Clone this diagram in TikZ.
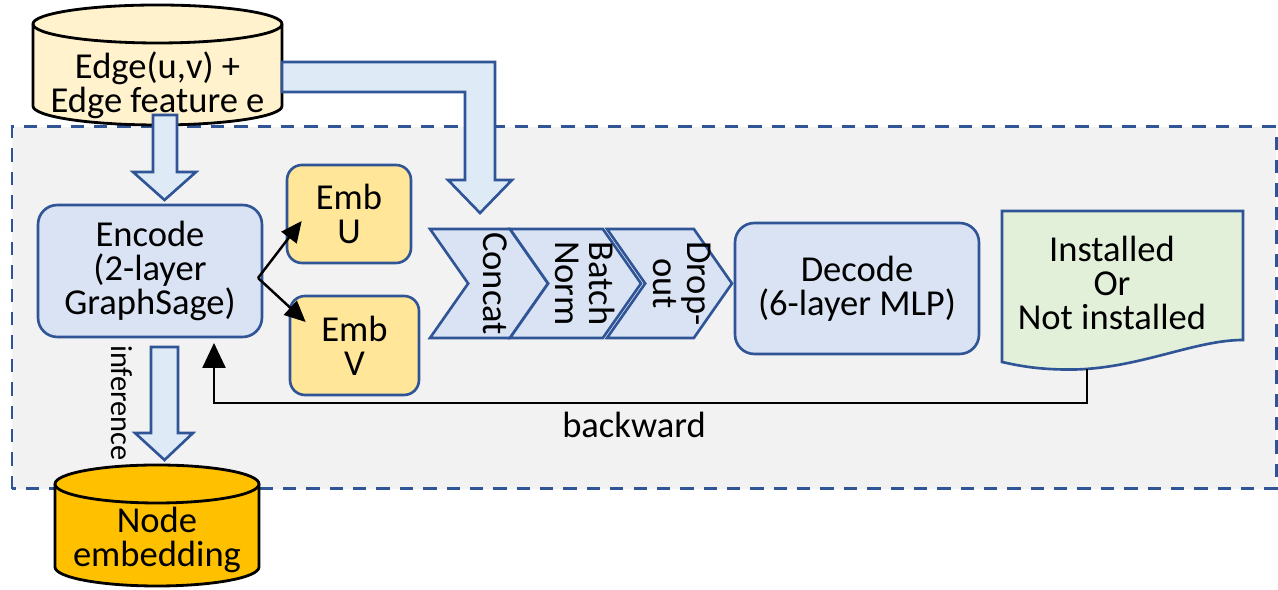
\documentclass[tikz,border=0pt]{standalone}
\usepackage{fontspec}
\setmainfont{Carlito}
\usepackage{xcolor}
\usepackage{tikz}
\usetikzlibrary{positioning, arrows.meta, shapes.symbols, calc}

\definecolor{lineblue}{HTML}{2F5597}
\definecolor{boxblue}{HTML}{DAE3F3}
\definecolor{arrblue}{HTML}{DEEBF7}
\definecolor{embyel}{HTML}{FFE699}
\definecolor{dbyel}{HTML}{FFF2CC}
\definecolor{dborange}{HTML}{FFC000}
\definecolor{docgreen}{HTML}{E2F0D9}
\definecolor{bggray}{HTML}{F2F2F2}

\begin{document}
\begin{tikzpicture}[
  x=0.02cm, y=0.02cm,
  every node/.style={font=\fontsize{20.8}{19.4}\selectfont},
  box/.style={draw=lineblue, line width=1.5pt, align=center, inner sep=0pt},
  enc/.style={box, fill=boxblue, rounded corners=11pt},
  emb/.style={box, fill=embyel, rounded corners=8.5pt},
  chev/.style={box, fill=boxblue, signal, signal from=west, signal to=east,
               signal pointer angle=110, minimum height=2.18cm},
  blockarr/.style={draw=lineblue, fill=arrblue, line width=1.5pt, line join=miter},
  conn/.style={-{Triangle[length=4.2mm,width=3.8mm]}, line width=1.4pt},
  backarr/.style={-{Triangle[length=5mm,width=4.6mm]}, line width=1.4pt},
  dbtxt/.style={align=center, inner sep=0pt},
  lbl/.style={inner sep=0pt},
]

\useasboundingbox (0,0) rectangle (1278,590);

% --- dashed training frame ---
\draw[draw=lineblue, fill=bggray, line width=1.7pt, dash pattern=on 7.6pt off 5.7pt]
  (12,101) rectangle (1276,463);

% --- input data (cylinder) ---
\filldraw[fill=dbyel, line width=1.6pt]
  (33,566) -- (33,484) arc[start angle=180, end angle=360, x radius=124.5, y radius=19]
  -- (282,566) arc[start angle=0, end angle=180, x radius=124.5, y radius=19] -- cycle;
\draw[line width=1.6pt] (33,566) arc[start angle=180, end angle=360, x radius=124.5, y radius=19];
\node[dbtxt] (edgedb) at (157.5,505) {Edge(u,v) +\\Edge feature e};

% --- output data (cylinder) ---
\filldraw[fill=dborange, line width=1.6pt]
  (55,106) -- (55,23) arc[start angle=180, end angle=360, x radius=102, y radius=19]
  -- (259,106) arc[start angle=0, end angle=180, x radius=102, y radius=19] -- cycle;
\draw[line width=1.6pt] (55,106) arc[start angle=180, end angle=360, x radius=102, y radius=19];
\node[dbtxt] (nodeemb) at (157,50) {Node\\embedding};

% --- block arrows ---
\draw[blockarr] (153,475) -- (177,475) -- (177,418) -- (196,418) -- (164.5,390)
  -- (133,418) -- (153,418) -- cycle;
\draw[blockarr] (282,528) -- (495,528) -- (495,410) -- (512,410) -- (480,377)
  -- (448,410) -- (465,410) -- (465,498) -- (282,498) -- cycle;
\draw[blockarr] (151,243) -- (178,243) -- (178,157) -- (193,157) -- (164.5,130)
  -- (135,157) -- (151,157) -- cycle;
\node[lbl, rotate=-90, font=\fontsize{17.3}{18}\selectfont] (inflbl) at (122,187) {inference};

% =========================================================
% Encoder and embeddings
% =========================================================
\node[enc, minimum width=4.48cm, minimum height=2.64cm] (enc) at (150,319)
  {Encode\\(2-layer\\GraphSage)};
\node[emb, minimum width=2.48cm, minimum height=1.96cm] (embu) at (349,376) {Emb\\U};
\node[emb, minimum width=2.58cm, minimum height=1.98cm] (embv) at (354.5,244.5) {Emb\\V};
\coordinate (split) at (258,312);
\draw[conn] (split) -- ($(embu.west)+(16,-7)$);
\draw[conn] (split) -- ($(embv.west)+(17,23.5)$);

% =========================================================
% Concat -> BatchNorm -> Dropout -> Decoder
% =========================================================
\node[chev, minimum width=2.36cm] (concat) at (489,306.5)
  {\makebox[0pt]{\hspace{0.24cm}\rotatebox{-90}{Concat}}};
\node[chev, minimum width=2.62cm] (bnorm) at (575.5,306.5)
  {\makebox[0pt]{\hspace{0.2cm}\rotatebox{-90}{\begin{tabular}{@{}c@{}}Batch\\Norm\end{tabular}}}};
\node[chev, minimum width=2.50cm] (dropout) at (669.5,306.5)
  {\makebox[0pt]{\hspace{0.32cm}\rotatebox{-90}{\begin{tabular}{@{}c@{}}Drop-\\out\end{tabular}}}};
\node[enc, minimum width=4.88cm, minimum height=2.62cm] (dec) at (857,301.5)
  {Decode\\(6-layer MLP)};

% --- prediction (document shape) ---
\draw[draw=lineblue, fill=docgreen, line width=1.5pt]
  (1002,379) -- (1243,379) -- (1243,250)
  .. controls (1195,250) and (1140,222) .. (1075,220.5)
  .. controls (1040,220) and (1020,224) .. (1002,228) -- cycle;
\node[dbtxt] (result) at (1112,307) {Installed\\Or\\Not installed};

% --- backward pass ---
\coordinate (resbot) at (1087,221);
\coordinate (backin) at (214,247);
\draw[backarr] (resbot) -- ++(0,-34) -| (backin);
\node[lbl] (bwlbl) at (634,165) {backward};

\end{tikzpicture}
\end{document}
